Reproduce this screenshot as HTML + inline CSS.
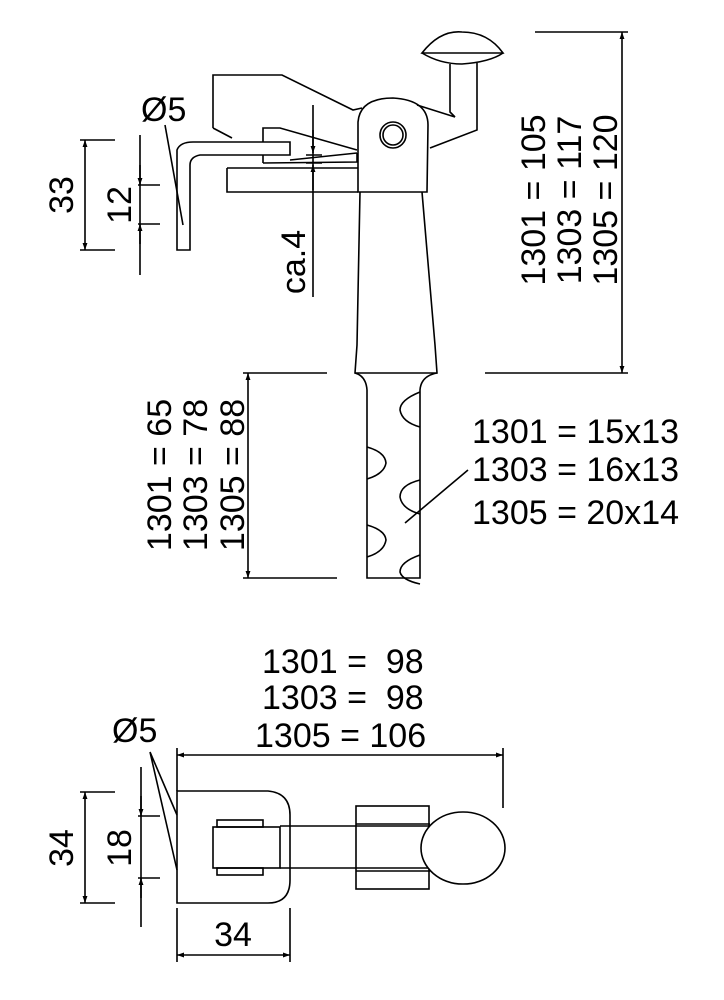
<!DOCTYPE html>
<html><head><meta charset="utf-8"><style>
html,body{margin:0;padding:0;background:#fff;width:724px;height:1000px;overflow:hidden}
svg{display:block}
text{font-family:"Liberation Sans",Arial,sans-serif;fill:#000;font-size:34px}
</style></head><body>
<svg width="724" height="1000" viewBox="0 0 724 1000" xmlns="http://www.w3.org/2000/svg">
<defs>
<marker id="a" viewBox="0 0 10 10" refX="10" refY="5" markerWidth="14" markerHeight="7" orient="auto-start-reverse" markerUnits="userSpaceOnUse"><path d="M0,1.5 L10,5 L0,8.5 z" fill="#000"/></marker>
</defs>
<g fill="none" stroke="#000" stroke-width="1.6">
<path d="M422,53 Q440,30 462,32 Q488,32 503,53 Z"/>
<path d="M422,53 Q440,64 462,64 Q490,62 503,53"/>
<path d="M450,64 L450,112 L455,117 M477,63 L477,130 L430,148"/>
<path d="M213,128 L213,75 L282,75 L353,110 L362,108"/>
<path d="M213,128 L232,138"/>
<path d="M417,105 L455,117"/>
<path d="M358,192 L358,122 Q360,98 393,98 Q428,100 428,125 L427,192 Z"/>
<circle cx="393" cy="135" r="13"/><circle cx="393" cy="135" r="10"/>
<path d="M227,168 L358,168 M227,168 L227,192 L358,192 M263,163 L357,162 L357,153"/>
<path d="M263,142 L263,128 L280,128 L357,150 M263,155 L263,163 M290,160 L357,153"/>
<path d="M177,250 L177,150 Q180,142 193,142 L290,142 L290,155 L200,155 Q190,157 190,165 L190,250 Z"/>
<path d="M360,192 L357,345 L355,373 L437,373 L435,345 L422,192"/>
<path d="M355,373 Q366,376 367,390 L367,578 L420,578 L420,390 Q421,376 437,373"/>
<path d="M420,392 Q400,400 400,410 Q402,422 420,427"/>
<path d="M367,447 Q385,452 386,463 Q384,474 367,479"/>
<path d="M420,480 Q400,485 400,497 Q402,509 420,514"/>
<path d="M367,525 Q385,530 386,540 Q384,552 367,557"/>
<path d="M420,555 Q400,562 400,572 Q402,580 420,584"/>
<path d="M405,523 L468,470"/>
<path d="M80,140 L115,140 M80,250 L115,250"/>
<path d="M85,140 L85,250" marker-start="url(#a)" marker-end="url(#a)"/>
<path d="M140,135 L140,275 M138,185 L160,185 M138,224 L160,224"/>
<path d="M140,165 L140,185" marker-end="url(#a)"/><path d="M140,244 L140,224" marker-end="url(#a)"/>
<path d="M165,125 L183,225"/>
<path d="M313,105 L313,297 M306,155 L322,155 M306,163 L322,163"/>
<path d="M313,130 L313,153" marker-end="url(#a)"/><path d="M313,190 L313,165" marker-end="url(#a)"/>
<path d="M535,32 L628,32 M485,373 L628,373"/>
<path d="M622,32 L622,373" marker-start="url(#a)" marker-end="url(#a)"/>
<path d="M243,373 L327,373 M243,578 L337,578"/>
<path d="M248,373 L248,578" marker-start="url(#a)" marker-end="url(#a)"/>
<path d="M177,791 L268,791 Q290,793 290,815 L290,880 Q290,903 268,903 L177,903 Z"/>
<rect x="213" y="827" width="67" height="41"/>
<rect x="217" y="820" width="46" height="7"/><rect x="217" y="868" width="46" height="7"/>
<path d="M280,826 L430,826 M280,868 L430,868"/>
<rect x="356" y="806" width="73" height="83"/>
<path d="M356,824 L430,824 M356,871 L430,871"/>
<ellipse cx="463" cy="848" rx="42" ry="36" fill="#fff"/>
<path d="M177,748 L177,791 M503,748 L503,808"/>
<path d="M177,755 L503,755" marker-start="url(#a)" marker-end="url(#a)"/>
<path d="M80,792 L115,792 M80,903 L115,903"/>
<path d="M85,792 L85,903" marker-start="url(#a)" marker-end="url(#a)"/>
<path d="M141,767 L141,927 M138,816 L160,816 M138,878 L160,878"/>
<path d="M141,796 L141,816" marker-end="url(#a)"/><path d="M141,898 L141,878" marker-end="url(#a)"/>
<path d="M150,752 L177,815 M150,752 L177,870"/>
<path d="M177,908 L177,962 M290,908 L290,962"/>
<path d="M177,955 L290,955" marker-start="url(#a)" marker-end="url(#a)"/>
</g>
<text x="141" y="121">Ø5</text>
<text transform="translate(73,195) rotate(-90)" text-anchor="middle">33</text>
<text transform="translate(131,205) rotate(-90)" text-anchor="middle">12</text>
<text transform="translate(305,262) rotate(-90)" text-anchor="middle">ca.4</text>
<text transform="translate(545,200) rotate(-90)" text-anchor="middle">1301 = 105</text>
<text transform="translate(581,200) rotate(-90)" text-anchor="middle">1303 = 117</text>
<text transform="translate(617,200) rotate(-90)" text-anchor="middle">1305 = 120</text>
<text transform="translate(171,475) rotate(-90)" text-anchor="middle">1301 = 65</text>
<text transform="translate(207,475) rotate(-90)" text-anchor="middle">1303 = 78</text>
<text transform="translate(244,475) rotate(-90)" text-anchor="middle">1305 = 88</text>
<text x="472" y="443">1301 = 15x13</text>
<text x="472" y="481">1303 = 16x13</text>
<text x="472" y="524">1305 = 20x14</text>
<text x="262" y="673" xml:space="preserve">1301 =  98</text>
<text x="262" y="709" xml:space="preserve">1303 =  98</text>
<text x="255" y="747">1305 = 106</text>
<text x="112" y="742">Ø5</text>
<text transform="translate(73,848) rotate(-90)" text-anchor="middle">34</text>
<text transform="translate(131,848) rotate(-90)" text-anchor="middle">18</text>
<text x="233" y="946" text-anchor="middle">34</text>
</svg>
</body></html>
